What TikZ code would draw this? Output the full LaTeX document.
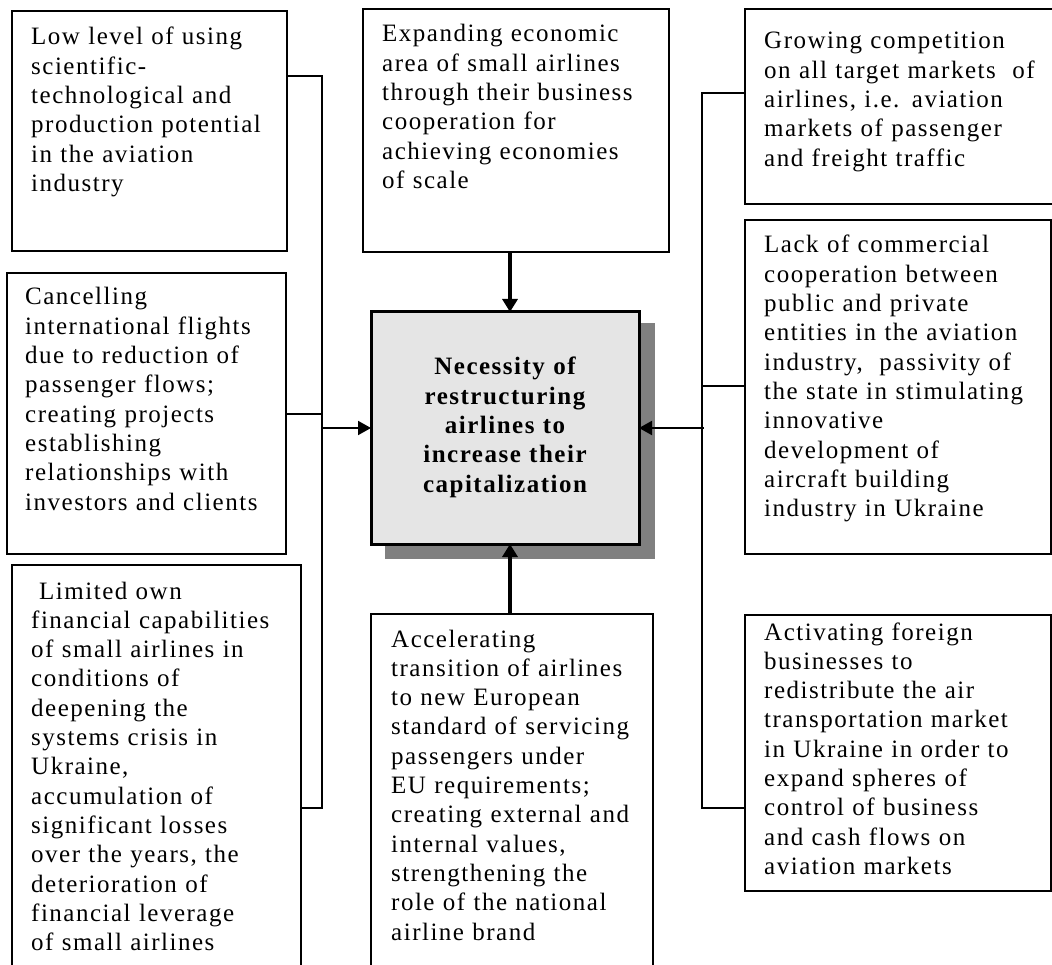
\documentclass[tikz,border=0pt]{standalone}
\usepackage{fontspec}
\setmainfont{Liberation Serif}[LetterSpace=6]
\usetikzlibrary{arrows.meta}
\tikzset{
  box/.style={draw=black, line width=1.2pt, fill=white, anchor=north west, inner sep=0pt, outer sep=0pt},
  txt/.style={anchor=base west, inner sep=0pt, text width=320pt, align=left,
    font=\fontsize{25}{29.3}\selectfont},
  ctxt/.style={anchor=base, inner sep=0pt, text width=268pt, align=center,
    font=\fontsize{25}{29.3}\selectfont\bfseries},
  conn/.style={draw=black, line width=1.2pt},
  harrow/.style={draw=black, line width=2pt, -{Triangle[length=13pt,width=14pt]}},
  varrow/.style={draw=black, line width=3.5pt, -{Triangle[length=13pt,width=15pt]}},
}
\begin{document}
\begin{tikzpicture}[x=1pt,y=-1pt]
\clip (0,0) rectangle (1052,965);
\fill[white] (0,0) rectangle (1052,965);

% boxes
\node[box, minimum width=275pt, minimum height=240pt] (A) at (12,11) {};
\node[box, minimum width=279pt, minimum height=281pt] (B) at (7,273) {};
\node[box, minimum width=289pt, minimum height=420pt] (C) at (12,565) {};
\node[box, minimum width=306pt, minimum height=243pt] (D) at (363,9) {};
\node[box, minimum width=282pt, minimum height=370pt] (F) at (371,614) {};
\node[box, minimum width=308pt, minimum height=195pt] (G) at (745,9) {};
\node[box, minimum width=306pt, minimum height=334pt] (H) at (745,220) {};
\node[box, minimum width=306pt, minimum height=276pt] (I) at (745,615) {};

% centre box with shadow
\fill[black!50] (385,323) rectangle (655,559);
\node[box, line width=3pt, fill=black!10, minimum width=268pt, minimum height=232pt] (E) at (371,312) {};

% texts
\node[txt] (At) at (31,45) {Low level of using\\scientific-\\technological and\\production potential\\in the aviation\\industry};
\node[txt] (Bt) at (25,305) {Cancelling\\international flights\\due to reduction of\\passenger flows;\\creating projects\\establishing\\relationships with\\investors and clients};
\node[txt] (Ct) at (31,599) {\hspace{8pt}Limited own\\financial capabilities\\of small airlines in\\conditions of\\deepening the\\systems crisis in\\Ukraine,\\accumulation of\\significant losses\\over the years, the\\deterioration of\\financial leverage\\of small airlines};
\node[txt] (Dt) at (382,42) {Expanding economic\\area of small airlines\\through their business\\cooperation for\\achieving economies\\of scale};
\node[ctxt] (Et) at (505,375) {Necessity of\\restructuring\\airlines to\\increase their\\capitalization};
\node[txt] (Ft) at (391,647) {Accelerating\\transition of airlines\\to new European\\standard of servicing\\passengers under\\EU requirements;\\creating external and\\internal values,\\strengthening the\\role of the national\\airline brand};
\node[txt] (Gt) at (764,49) {Growing competition\\on all target markets\ \ of\\airlines, i.e. aviation\\markets of passenger\\and freight traffic};
\node[txt] (Ht) at (764,253) {Lack of commercial\\cooperation between\\public and private\\entities in the aviation\\industry,\ \ passivity of\\the state in stimulating\\innovative\\development of\\aircraft building\\industry in Ukraine};
\node[txt] (It) at (764,640) {Activating foreign\\businesses to\\redistribute the air\\transportation market\\in Ukraine in order to\\expand spheres of\\control of business\\and cash flows on\\aviation markets};

% left bracket
\coordinate (Lt) at (322,76);
\coordinate (Lm) at (322,414);
\coordinate (Lb) at (322,808);
\coordinate (La) at (322,428);
\draw[conn] (A.north east |- Lt) -- (Lt) -- (Lb) -- (C.north east |- Lb);
\draw[conn] (B.north east |- Lm) -- (Lm);
\draw[harrow] (La) -- (E.west);

% right bracket
\coordinate (Rt) at (702,93);
\coordinate (Rm) at (702,386);
\coordinate (Rb) at (702,808);
\coordinate (Ra) at (704,428);
\draw[conn] (G.north west |- Rt) -- (Rt) -- (Rb) -- (I.north west |- Rb);
\draw[conn] (H.north west |- Rm) -- (Rm);
\draw[harrow] (Ra) -- (E.east);

% vertical arrows
\coordinate (V) at (510,0);
\draw[varrow] (D.south -| V) -- (E.north -| V);
\draw[varrow] (F.north -| V) -- (E.south -| V);
\end{tikzpicture}
\end{document}
